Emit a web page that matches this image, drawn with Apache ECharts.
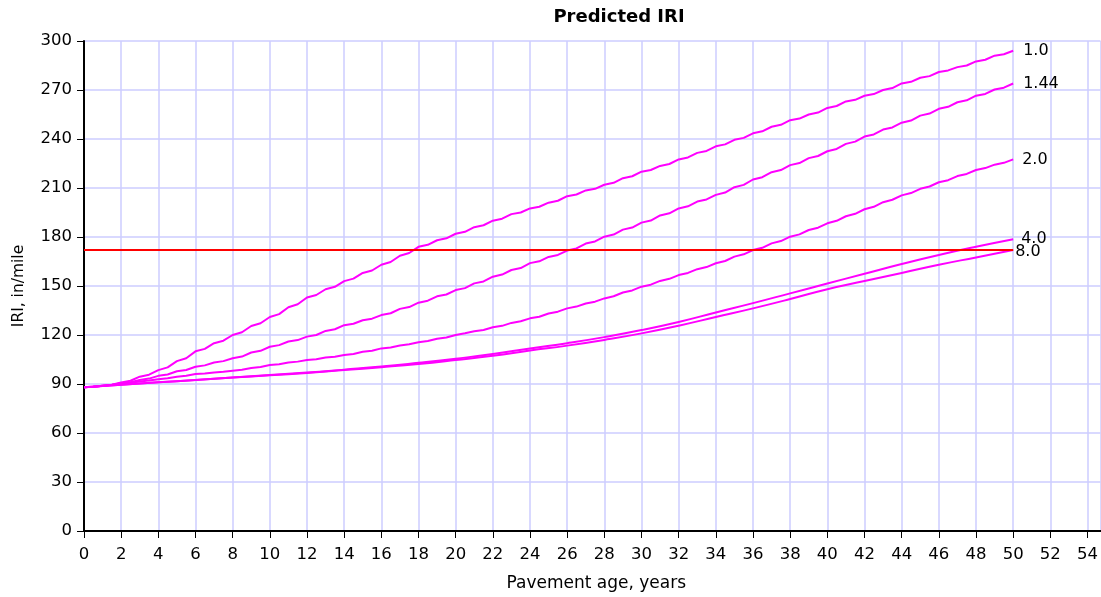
<!DOCTYPE html>
<html>
<head>
<meta charset="utf-8">
<script src="https://cdn.jsdelivr.net/npm/echarts@6/dist/echarts.min.js"></script>
<style>
html,body{margin:0;padding:0;background:#fff;}
#chart{width:1101px;height:597px;}
</style>
</head>
<body>
<div id="chart"></div>
<script>
// Years at half-year resolution (wiggly curves)
const yearsHalf = [0,0.5,1,1.5,2,2.5,3,3.5,4,4.5,5,5.5,6,6.5,7,7.5,8,8.5,9,9.5,10,10.5,11,11.5,12,12.5,13,13.5,14,14.5,15,15.5,16,16.5,17,17.5,18,18.5,19,19.5,20,20.5,21,21.5,22,22.5,23,23.5,24,24.5,25,25.5,26,26.5,27,27.5,28,28.5,29,29.5,30,30.5,31,31.5,32,32.5,33,33.5,34,34.5,35,35.5,36,36.5,37,37.5,38,38.5,39,39.5,40,40.5,41,41.5,42,42.5,43,43.5,44,44.5,45,45.5,46,46.5,47,47.5,48,48.5,49,49.5,50];
// Years at two-year resolution (smooth curves)
const yearsEven = [0,2,4,6,8,10,12,14,16,18,20,22,24,26,28,30,32,34,36,38,40,42,44,46,48,50];

const iri_1_0 = [88,88.3,89,89.6,91,92,94.5,95.7,98.5,100.2,104,105.8,110,111.5,115,116.5,120,121.7,125.5,127.2,131,132.8,137,138.8,143,144.5,148,149.5,153,154.5,158,159.5,163,164.7,168.5,170.2,174,175.2,178,179.2,182,183.2,186,187.2,190,191.2,194,195,197.5,198.5,201,202.2,205,206,208.5,209.5,212,213.2,216,217.2,220,221,223.5,224.7,227.5,228.7,231.5,232.7,235.5,236.7,239.5,240.7,243.5,244.7,247.5,248.7,251.5,252.5,255,256.2,259,260.2,263,264,266.5,267.5,270,271.2,274,275,277.5,278.5,281,282,284,285,287.5,288.5,291,291.9,294];
const iri_1_44 = [88,88.3,89,89.5,90.5,91.1,92.5,93.3,95,95.8,97.8,98.6,100.6,101.4,103.2,104,105.8,106.8,109.3,110.3,112.8,113.8,116,116.9,119,120,122.5,123.5,126,126.9,129,130,132.2,133.3,136,137.1,139.8,141,143.7,144.8,147.5,148.7,151.6,152.8,155.7,157,159.8,161,164,165.1,167.8,169,171.7,173,176,177.3,180.2,181.5,184.5,185.8,188.8,190.1,193.2,194.5,197.5,198.8,201.7,203,205.8,207.2,210.5,211.9,215.2,216.6,219.7,221,224,225.3,228.3,229.6,232.5,233.9,237,238.4,241.5,242.8,245.8,247.1,250,251.3,254.3,255.6,258.5,259.7,262.5,263.7,266.5,267.6,270.3,271.4,274];
const iri_2_0 = [88,88.3,89,89.4,90.3,90.8,91.6,92.1,92.9,93.5,94.5,95.1,96.1,96.4,97.1,97.5,98.1,98.7,99.8,100.4,101.6,102.1,103.1,103.7,104.7,105.2,106.2,106.7,107.7,108.4,109.7,110.4,111.8,112.4,113.6,114.3,115.5,116.3,117.7,118.5,120,121.1,122.3,123.1,124.7,125.6,127.4,128.4,130.2,131.2,133.2,134.3,136.3,137.4,139.3,140.4,142.4,143.7,146,147.3,149.6,150.8,153.1,154.4,156.7,158,160.3,161.6,163.9,165.3,168,169.4,172,173.4,176.1,177.5,180.2,181.6,184.3,185.7,188.4,189.9,192.7,194.2,197,198.5,201.3,202.8,205.5,206.9,209.5,210.9,213.5,214.8,217.3,218.6,221,222.2,224.3,225.4,227.5];
const iri_4_0 = [88,89.5,91,92.5,94,95.5,97,98.8,100.7,103,105.5,108.3,111.8,115,118.7,123,128,133.8,139.5,145.5,151.5,157.5,163.5,169,174,178.6];
const iri_8_0 = [88,89.5,91,92.5,94,95.3,96.8,98.5,100.3,102.3,104.7,107.3,110.5,113.5,117,121,125.7,131,136.3,142,148,153,158,163,167.5,172];

const thresholdYears = [0,50];
const thresholdIRI = [172,172];

const xTicks = {min:0, max:54.7, interval:2};
const yTicks = {min:0, max:300, interval:30};

function zip(xs, ys){ return xs.map((x,i)=>[x, ys[i]]); }

const FONT = 'DejaVu Sans, Verdana, sans-serif';
const MAG = '#FF00FF';
const GRIDC = '#CCCCFF';

function curve(name, xs, ys, smooth, lab){
  return {
    name: name, type:'line', data: zip(xs, ys), smooth: smooth,
    symbol:'none', lineStyle:{color:MAG, width:2}, itemStyle:{color:MAG},
    z: 3, silent: true,
    endLabel:{show:true, formatter:name, color:'#000', fontFamily:FONT, fontSize:16,
      distance: lab.d, offset: lab.o}
  };
}

const chart = echarts.init(document.getElementById('chart'), null, {renderer:'canvas'});
chart.setOption({
  animation:false,
  backgroundColor:'#fff',
  title:{text:'Predicted IRI', left:614, top:3, textAlign:'center',
    textStyle:{fontFamily:FONT, fontSize:18, fontWeight:'bold', color:'#000'}},
  grid:{left:84, top:41, right:0, bottom:66, containLabel:false},
  xAxis:[{
    type:'value', min:xTicks.min, max:xTicks.max, interval:xTicks.interval,
    name:'Pavement age, years', nameLocation:'middle', nameGap:44,
    nameTextStyle:{fontFamily:FONT, fontSize:17, color:'#000', padding:[0,0,0,8]},
    axisLine:{show:true, onZero:false, lineStyle:{color:'#000', width:2}},
    axisTick:{show:true, length:7, inside:false, lineStyle:{color:'#000', width:1}},
    axisLabel:{fontFamily:FONT, fontSize:16.5, color:'#000', margin:15, showMaxLabel:false},
    splitLine:{show:true, lineStyle:{color:GRIDC, width:1.5}}
  },{
    type:'value', position:'top', min:xTicks.min, max:xTicks.max,
    axisLine:{show:true, lineStyle:{color:'#000', width:2}},
    axisTick:{show:false}, axisLabel:{show:false}, splitLine:{show:false}
  }],
  yAxis:{
    type:'value', min:yTicks.min, max:yTicks.max, interval:yTicks.interval,
    name:'IRI, in/mile', nameLocation:'middle', nameGap:57, nameRotate:90,
    nameTextStyle:{fontFamily:FONT, fontSize:15.5, color:'#000'},
    axisLine:{show:true, lineStyle:{color:'#000', width:2}},
    axisTick:{show:true, length:7, lineStyle:{color:'#000', width:1}},
    axisLabel:{fontFamily:FONT, fontSize:16.5, color:'#000', margin:12},
    splitLine:{show:true, lineStyle:{color:GRIDC, width:1.5}}
  },
  series:[
    {name:'limit', type:'line', data: zip(thresholdYears, thresholdIRI), symbol:'none',
      lineStyle:{color:'#FF0000', width:2}, z:4, silent:true},
    curve('1.0', yearsHalf, iri_1_0, false, {d:10, o:[0,0]}),
    curve('1.44', yearsHalf, iri_1_44, false, {d:10, o:[0,0]}),
    curve('2.0', yearsHalf, iri_2_0, false, {d:9, o:[0,0]}),
    curve('4.0', yearsEven, iri_4_0, true, {d:8, o:[0,0]}),
    curve('8.0', yearsEven, iri_8_0, true, {d:2, o:[0,2]})
  ]
});
</script>
</body>
</html>
